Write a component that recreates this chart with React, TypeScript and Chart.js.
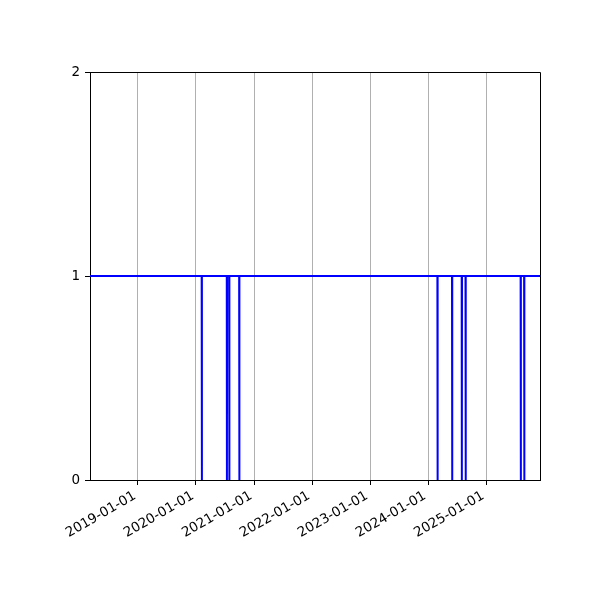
import { useEffect, useRef } from "react";
import { Chart, registerables } from "chart.js";

Chart.register(...registerables);

const rangeStart = "2018-03-05";
const rangeEnd = "2025-12-06";
const tickYears = [2019, 2020, 2021, 2022, 2023, 2024, 2025];
const yTicks = [0, 1, 2];
const upValue = 1;
const downValue = 0;
const outageDates = [
  "2020-02-07",
  "2020-07-14",
  "2020-07-29",
  "2020-09-30",
  "2024-03-01",
  "2024-06-01",
  "2024-08-01",
  "2024-08-25",
  "2025-08-07",
  "2025-08-29",
];

const DAY = 86400000;
const ts = (s: string) => Date.parse(s + "T00:00:00Z");

function buildPoints() {
  const pts: { x: number; y: number }[] = [{ x: ts(rangeStart), y: upValue }];
  outageDates.forEach((d) => {
    const t = ts(d);
    pts.push({ x: t - DAY, y: upValue });
    pts.push({ x: t, y: downValue });
    pts.push({ x: t + DAY, y: upValue });
  });
  pts.push({ x: ts(rangeEnd), y: upValue });
  return pts;
}

// top and right spines (left/bottom come from the axes borders)
const frame = {
  id: "frame",
  afterDraw(chart: Chart) {
    const { ctx, chartArea } = chart;
    const top = Math.round(chartArea.top) + 0.5;
    const right = Math.round(chartArea.right) + 0.5;
    ctx.save();
    ctx.strokeStyle = "#000";
    ctx.lineWidth = 1;
    ctx.beginPath();
    ctx.moveTo(chartArea.left, top);
    ctx.lineTo(right, top);
    ctx.lineTo(right, chartArea.bottom);
    ctx.stroke();
    ctx.restore();
  },
};

export default function App() {
  const chartRef = useRef<HTMLCanvasElement>(null);
  const chartInstance = useRef<Chart | null>(null);

  useEffect(() => {
    if (!chartRef.current) return;
    document.body.style.margin = "0";
    if (chartInstance.current) chartInstance.current.destroy();

    chartInstance.current = new Chart(chartRef.current, {
      type: "line",
      data: {
        datasets: [
          {
            data: buildPoints(),
            borderColor: "#0000ff",
            borderWidth: 2,
            pointRadius: 0,
            tension: 0,
            fill: false,
          },
        ],
      },
      options: {
        responsive: false,
        animation: false,
        layout: { padding: { top: 72, right: 60, left: 0, bottom: 0 } },
        plugins: { legend: { display: false }, tooltip: { enabled: false } },
        scales: {
          x: {
            type: "linear",
            min: ts(rangeStart),
            max: ts(rangeEnd),
            afterBuildTicks: (scale: any) => {
              scale.ticks = tickYears.map((y) => ({ value: Date.UTC(y, 0, 1) }));
            },
            afterFit: (scale: any) => {
              scale.height = 120;
            },
            ticks: {
              minRotation: 30,
              maxRotation: 30,
              autoSkip: false,
              color: "#000",
              padding: 3,
              labelOffset: -3,
              font: { family: "DejaVu Sans", size: 13.5 },
              callback: (v: any) => new Date(Number(v)).toISOString().slice(0, 10),
            },
            grid: { color: "#b0b0b0", lineWidth: 1, tickColor: "#000", tickLength: 5 },
            border: { color: "#000", width: 1 },
          },
          y: {
            min: 0,
            max: 2,
            afterBuildTicks: (scale: any) => {
              scale.ticks = yTicks.map((v) => ({ value: v }));
            },
            afterFit: (scale: any) => {
              scale.width = 90;
            },
            ticks: {
              color: "#000",
              padding: 5,
              font: { family: "DejaVu Sans", size: 13.5 },
            },
            grid: { drawOnChartArea: false, tickColor: "#000", tickLength: 5 },
            border: { color: "#000", width: 1 },
          },
        },
      },
      plugins: [frame],
    });

    return () => {
      if (chartInstance.current) chartInstance.current.destroy();
    };
  }, []);

  return (
    <div style={{ width: 600, height: 600, background: "#fff" }}>
      <canvas ref={chartRef} width={600} height={600} />
    </div>
  );
}
